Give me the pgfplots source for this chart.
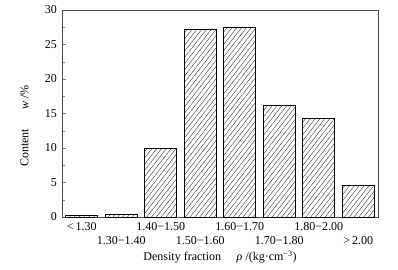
\documentclass[border=0pt]{standalone}
\usepackage{pgfplots}
\pgfplotsset{compat=1.18}
\usepackage{fontspec}
\setmainfont{Liberation Serif}
\usetikzlibrary{patterns.meta}
\newcommand{\lo}[1]{\raisebox{-13.5pt}{#1}}
\begin{document}
\fontsize{12}{14}\selectfont
\begin{tikzpicture}
\path[use as bounding box] (-62pt,-52pt) rectangle (336pt,217pt);
\begin{axis}[
  scale only axis,
  width=316pt, height=207pt,
  xmin=-0.5, xmax=7.5,
  ymin=0, ymax=30,
  ytick={0,5,10,15,20,25,30},
  minor y tick num=1,
  tick align=inside,
  ytick pos=left,
  xtick=data,
  xtick style={draw=none},
  major tick length=4pt,
  minor tick length=2.5pt,
  axis line style={gray!60!black, line width=0.6pt},
  /pgf/number format/assume math mode=true,
  ticklabel style={font=\fontsize{12}{14}\selectfont},
  xticklabel style={text height=8.5pt, text depth=2pt, inner sep=0pt, yshift=-5pt},
  xticklabels={{<\,1.30},\lo{1.30−1.40},{1.40−1.50},\lo{1.50−1.60},{1.60−1.70},\lo{1.70−1.80},{1.80−2.00},\lo{>\,2.00}},
  yticklabel style={xshift=-1pt},
  ylabel={Content\hspace{1.6em}\textit{w} /\%},
  ylabel style={font=\fontsize{12}{14}\selectfont, at={(ticklabel cs:0.44)}, yshift=8pt},
  xlabel={Density fraction\hspace{1.3em}\textit{ρ} /(kg·cm\textsuperscript{−3})},
  xlabel style={font=\fontsize{12}{14}\selectfont, yshift=-14pt},
]
\addplot[ybar, bar width=0.81, draw=black, line width=0.9pt,
  pattern={Lines[angle=52, distance=3.8pt, line width=0.4pt]}, pattern color=black!80]
  coordinates {(0,0.2) (1,0.3) (2,10.0) (3,27.2) (4,27.4) (5,16.2) (6,14.3) (7,4.6)};
\end{axis}
\end{tikzpicture}
\end{document}
